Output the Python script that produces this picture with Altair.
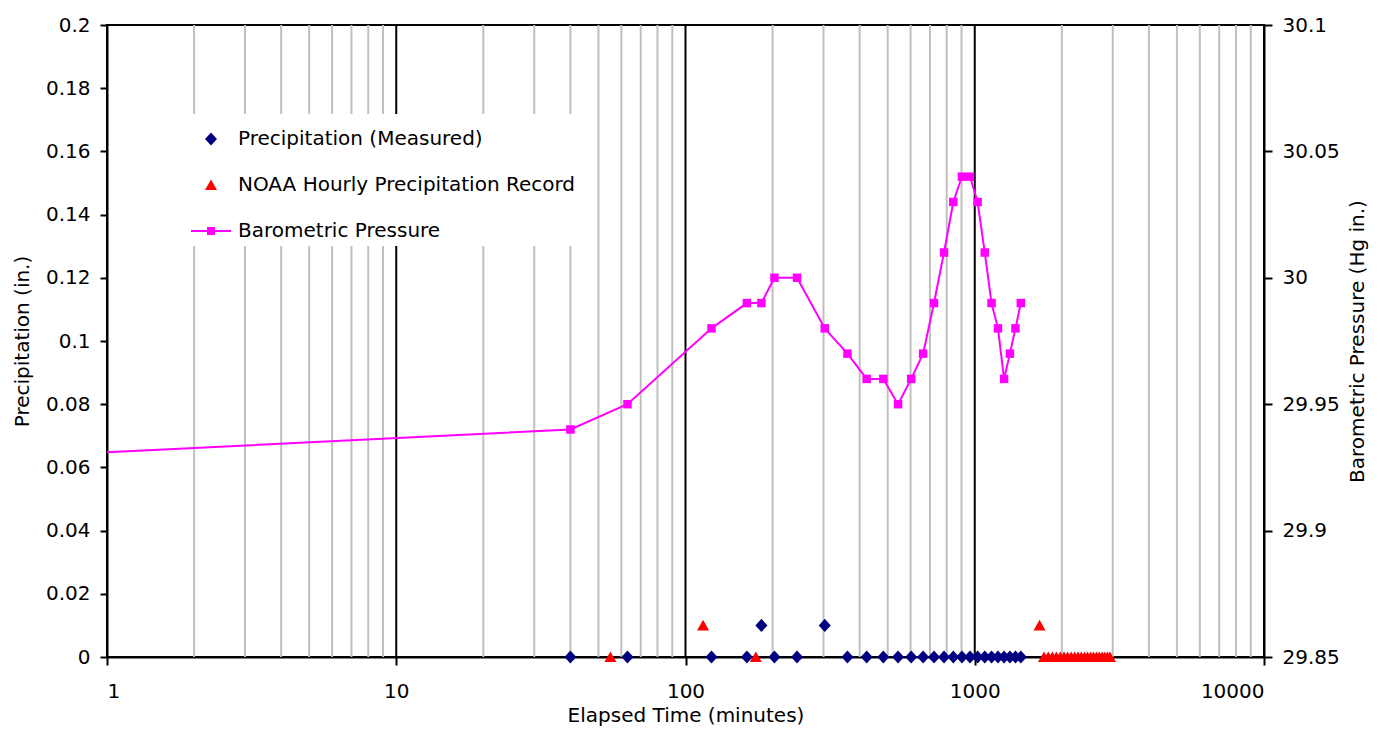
import altair as alt
import pandas as pd

# ---------------- data ----------------
pressure_t = [40, 63, 123, 163, 183, 203, 243, 303, 363, 423, 483, 543, 603, 663,
              723, 783, 843, 903, 963, 1023, 1083, 1143, 1203, 1263, 1323, 1383, 1443]
pressure_hg = [29.94, 29.95, 29.98, 29.99, 29.99, 30.00, 30.00, 29.98, 29.97, 29.96,
               29.96, 29.95, 29.96, 29.97, 29.99, 30.01, 30.03, 30.04, 30.04, 30.03,
               30.01, 29.99, 29.98, 29.96, 29.97, 29.98, 29.99]
# line continues off to the left edge of the plot (no marker there)
line_lead_t = [1]
line_lead_hg = [29.931]

measured_t = pressure_t
measured_in = [0, 0, 0, 0, 0.01, 0, 0, 0.01, 0, 0, 0, 0, 0, 0,
               0, 0, 0, 0, 0, 0, 0, 0, 0, 0, 0, 0, 0]

noaa_t = [55, 115, 175, 1675, 1735, 1795, 1855, 1915, 1975, 2035, 2095, 2155, 2215,
          2275, 2335, 2395, 2455, 2515, 2575, 2635, 2695, 2755, 2815, 2875, 2935]
noaa_in = [0, 0.01, 0, 0.01, 0, 0, 0, 0, 0, 0, 0, 0, 0,
           0, 0, 0, 0, 0, 0, 0, 0, 0, 0, 0, 0]

minor_grid = [2, 3, 4, 5, 6, 7, 8, 9, 20, 30, 40, 50, 60, 70, 80, 90,
              200, 300, 400, 500, 600, 700, 800, 900, 2000, 3000, 4000, 5000,
              6000, 7000, 8000, 9000]
major_grid = [10, 100, 1000]

x_ticks = [1, 10, 100, 1000, 10000]
left_ticks = [0, 0.02, 0.04, 0.06, 0.08, 0.1, 0.12, 0.14, 0.16, 0.18, 0.2]
right_ticks = [29.85, 29.9, 29.95, 30, 30.05, 30.1]

series_names = ["Precipitation (Measured)", "NOAA Hourly Precipitation Record",
                "Barometric Pressure"]
series_colors = ["#000080", "#FF0000", "#FF00FF"]

# ---------------- tables ----------------
precip_df = pd.concat([
    pd.DataFrame({"t": measured_t, "v": measured_in, "series": series_names[0]}),
    pd.DataFrame({"t": noaa_t, "v": noaa_in, "series": series_names[1]}),
], ignore_index=True)
press_pts = pd.DataFrame({"t": pressure_t, "hg": pressure_hg})
press_line = pd.DataFrame({"t": line_lead_t + pressure_t, "hg": line_lead_hg + pressure_hg})
minor_df = pd.DataFrame({"t": minor_grid})
major_df = pd.DataFrame({"t": major_grid})

FONT = "DejaVu Sans"
W, H = 1157, 632

# symbol paths (scale: 1 unit = 20 px at size 1600)
diamond = "M0,-0.33L0.3,0L0,0.33L-0.3,0Z"
triangle = "M0,-0.28L0.3,0.25L-0.3,0.25Z"
line_sq = "M-1,-0.05H1V0.05H-1Z M-0.2,-0.2H0.2V0.2H-0.2Z"

x_scale = alt.Scale(type="log", domain=[1, 10000], nice=False)
x_axis = alt.Axis(values=x_ticks, format="d", grid=False, tickSize=8, tickWidth=2,
                  tickColor="black", domainColor="black", domainWidth=2,
                  labelFontSize=20, labelBaseline="alphabetic", labelPadding=32,
                  title="Elapsed Time (minutes)", titleFontSize=20,
                  titleX=W / 2, titleY=64, titleBaseline="alphabetic",
                  titleAlign="center")
X = alt.X("t:Q", scale=x_scale, axis=x_axis)

minor_rules = alt.Chart(minor_df).mark_rule(color="#c0c0c0", strokeWidth=2).encode(x=X)
major_rules = alt.Chart(major_df).mark_rule(color="#000000", strokeWidth=2).encode(x=X)

legend = alt.Legend(title=None, orient="none", legendX=79, legendY=89,
                    fillColor="white", padding=5, symbolSize=1600,
                    symbolStrokeWidth=0, symbolOpacity=1, labelFont=FONT,
                    labelFontSize=20, labelColor="black", labelLimit=600,
                    labelOffset=7, rowPadding=16)

precip = alt.Chart(precip_df).mark_point(filled=True, opacity=1, size=1600,
                                          strokeWidth=0).encode(
    x=X,
    y=alt.Y("v:Q", scale=alt.Scale(domain=[0, 0.2], nice=False),
            axis=alt.Axis(values=left_ticks, format=".2~f", grid=False, tickSize=7,
                          tickWidth=2, tickColor="black", domainColor="black",
                          domainWidth=2, labelFontSize=20, labelPadding=10,
                          title="Precipitation (in.)", titleFontSize=20,
                          titleAngle=270, titleX=-85, titleY=H / 2,
                          titleAlign="center", titleBaseline="middle")),
    color=alt.Color("series:N", scale=alt.Scale(domain=series_names, range=series_colors),
                    legend=legend),
    shape=alt.Shape("series:N", scale=alt.Scale(domain=series_names,
                                                range=[diamond, triangle, line_sq]),
                    legend=legend),
)

Y_right = alt.Y("hg:Q", scale=alt.Scale(domain=[29.85, 30.1], nice=False, zero=False),
                axis=alt.Axis(orient="right", values=right_ticks, format=".2~f",
                              grid=False, tickSize=8, tickWidth=2, tickColor="black",
                              domainColor="black", domainWidth=2, labelFontSize=20,
                              labelPadding=10, title="Barometric Pressure (Hg in.)",
                              titleFontSize=20, titleAngle=270, titleX=93,
                              titleY=H / 2, titleAlign="center",
                              titleBaseline="middle"))

p_line = alt.Chart(press_line).mark_line(color="#FF00FF", strokeWidth=2).encode(
    x=X, y=Y_right)
p_pts = alt.Chart(press_pts).mark_point(shape="square", filled=True, size=72,
                                        color="#FF00FF", opacity=1).encode(
    x=X, y=Y_right)
right = alt.layer(p_line, p_pts)

chart = alt.layer(minor_rules, major_rules, precip, right).resolve_scale(
    y="independent"
).properties(
    width=W, height=H,
    autosize=alt.AutoSizeParams(type="none"),
    padding={"left": 107, "top": 25, "right": 124, "bottom": 85},
    background="white",
).configure_view(
    stroke="black", strokeWidth=2
).configure_axis(
    labelFont=FONT, titleFont=FONT, labelColor="black", titleColor="black",
    titleFontWeight="normal"
)

chart.save("out.html", embed_options={"renderer": "svg", "actions": False})
